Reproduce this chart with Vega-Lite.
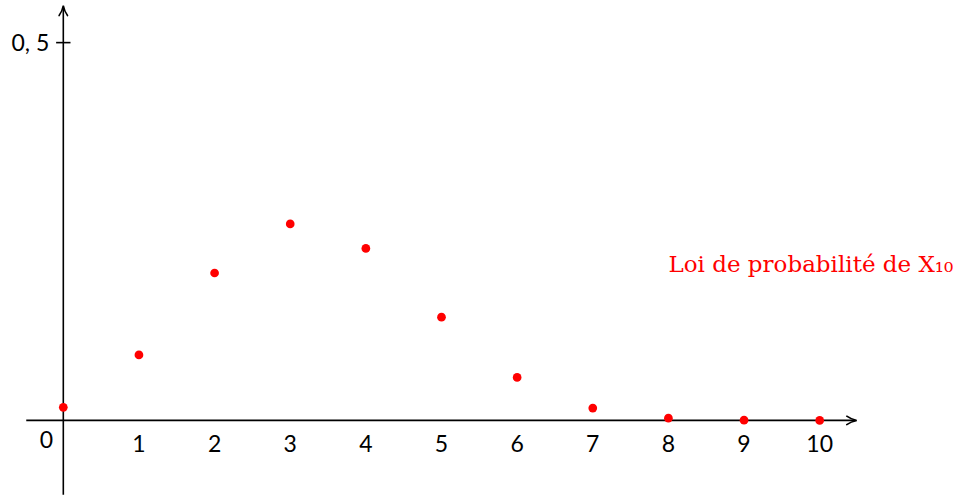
{
  "$schema": "https://vega.github.io/schema/vega-lite/v6.json",
  "width": 964,
  "height": 496,
  "autosize": {"type": "fit", "contains": "padding"},
  "padding": 0,
  "background": "white",
  "config": {"view": {"stroke": null}},
  "datasets": {
    "probs": [
      {"k": 0, "p": 0.0173},
      {"k": 1, "p": 0.0867},
      {"k": 2, "p": 0.1951},
      {"k": 3, "p": 0.2601},
      {"k": 4, "p": 0.2276},
      {"k": 5, "p": 0.1366},
      {"k": 6, "p": 0.0569},
      {"k": 7, "p": 0.0163},
      {"k": 8, "p": 0.0030},
      {"k": 9, "p": 0.0003},
      {"k": 10, "p": 0.0000}
    ],
    "xlabels": [
      {"k": 1, "label": "1"},
      {"k": 2, "label": "2"},
      {"k": 3, "label": "3"},
      {"k": 4, "label": "4"},
      {"k": 5, "label": "5"},
      {"k": 6, "label": "6"},
      {"k": 7, "label": "7"},
      {"k": 8, "label": "8"},
      {"k": 9, "label": "9"},
      {"k": 10, "label": "10"}
    ]
  },
  "layer": [
    {
      "data": {"values": [{"x1": -0.49, "x2": 10.47, "y": 0}]},
      "mark": {"type": "rule", "color": "black", "strokeWidth": 1.6},
      "encoding": {
        "x": {"field": "x1", "type": "quantitative", "scale": {"domain": [-0.837, 11.908], "nice": false, "zero": false}, "axis": null},
        "x2": {"field": "x2"},
        "y": {"field": "y", "type": "quantitative", "scale": {"domain": [-0.0987, 0.5564], "nice": false, "zero": false}, "axis": null}
      }
    },
    {
      "data": {"values": [{"x": 0, "y1": -0.0985, "y2": 0.546}]},
      "mark": {"type": "rule", "color": "black", "strokeWidth": 1.6},
      "encoding": {
        "x": {"field": "x", "type": "quantitative"},
        "y": {"field": "y1", "type": "quantitative"},
        "y2": {"field": "y2"}
      }
    },
    {
      "data": {"values": [{"x1": -0.095, "x2": 0.095, "y": 0.5}]},
      "mark": {"type": "rule", "color": "black", "strokeWidth": 1.6},
      "encoding": {
        "x": {"field": "x1", "type": "quantitative"},
        "x2": {"field": "x2"},
        "y": {"field": "y", "type": "quantitative"}
      }
    },
    {
      "data": {"values": [{"x": 10.49, "y": 0}]},
      "mark": {"type": "point", "shape": "M-1,-0.42 C-0.7,-0.2 -0.25,-0.05 0,0 C-0.25,0.05 -0.7,0.2 -1,0.42", "filled": false, "stroke": "black", "strokeWidth": 1.6, "strokeCap": "round", "size": 400, "opacity": 1},
      "encoding": {
        "x": {"field": "x", "type": "quantitative"},
        "y": {"field": "y", "type": "quantitative"}
      }
    },
    {
      "data": {"values": [{"x": 0, "y": 0.549}]},
      "mark": {"type": "point", "shape": "M-1,-0.42 C-0.7,-0.2 -0.25,-0.05 0,0 C-0.25,0.05 -0.7,0.2 -1,0.42", "filled": false, "stroke": "black", "strokeWidth": 1.6, "strokeCap": "round", "size": 400, "angle": 270, "opacity": 1},
      "encoding": {
        "x": {"field": "x", "type": "quantitative"},
        "y": {"field": "y", "type": "quantitative"}
      }
    },
    {
      "data": {"name": "probs"},
      "mark": {"type": "circle", "color": "#ff0000", "size": 76, "opacity": 1},
      "encoding": {
        "x": {"field": "k", "type": "quantitative"},
        "y": {"field": "p", "type": "quantitative"}
      }
    },
    {
      "data": {"name": "xlabels"},
      "mark": {"type": "text", "font": "Lato", "fontSize": 23, "color": "black", "align": "center", "baseline": "alphabetic", "dy": 32},
      "encoding": {
        "x": {"field": "k", "type": "quantitative"},
        "y": {"datum": 0, "type": "quantitative"},
        "text": {"field": "label"}
      }
    },
    {
      "data": {"values": [{"k": 0, "label": "0"}]},
      "mark": {"type": "text", "font": "Lato", "fontSize": 23, "color": "black", "align": "center", "baseline": "alphabetic", "dy": 28, "dx": -17},
      "encoding": {
        "x": {"field": "k", "type": "quantitative"},
        "y": {"datum": 0, "type": "quantitative"},
        "text": {"field": "label"}
      }
    },
    {
      "data": {"values": [{"x": 0, "y": 0.5, "label": "0, 5"}]},
      "mark": {"type": "text", "font": "Lato", "fontSize": 23, "color": "black", "align": "right", "baseline": "middle", "dx": -14, "dy": 1},
      "encoding": {
        "x": {"field": "x", "type": "quantitative"},
        "y": {"field": "y", "type": "quantitative"},
        "text": {"field": "label"}
      }
    },
    {
      "data": {"values": [{"x": 8.0, "y": 0.197, "label": "Loi de probabilité de X₁₀"}]},
      "mark": {"type": "text", "font": "DejaVu Serif", "fontSize": 23, "color": "#ff0000", "align": "left", "baseline": "alphabetic"},
      "encoding": {
        "x": {"field": "x", "type": "quantitative"},
        "y": {"field": "y", "type": "quantitative"},
        "text": {"field": "label"}
      }
    }
  ]
}
